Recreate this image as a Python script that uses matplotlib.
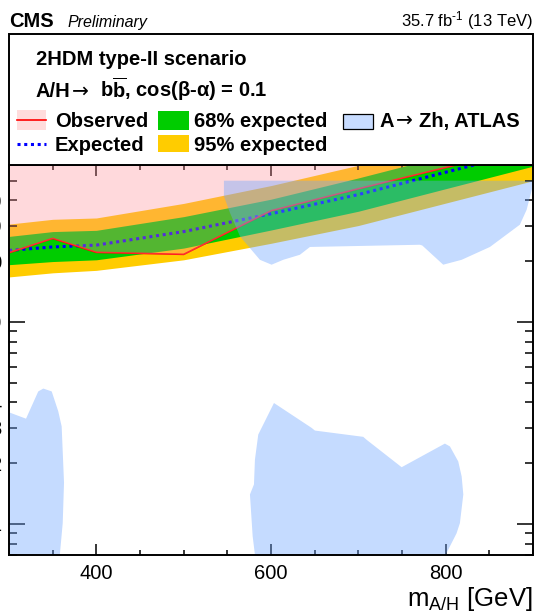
import matplotlib
matplotlib.use("Agg")
import matplotlib.pyplot as plt
from matplotlib.patches import Rectangle
from matplotlib.lines import Line2D
from matplotlib.ticker import FixedLocator, FixedFormatter

plt.rcParams['font.family'] = ['Liberation Sans', 'DejaVu Sans']
plt.rcParams['mathtext.fontset'] = 'custom'
plt.rcParams['mathtext.rm'] = 'Liberation Sans'
plt.rcParams['mathtext.it'] = 'Liberation Sans:italic'
plt.rcParams['mathtext.bf'] = 'Liberation Sans:bold'

# ---------------- data ----------------
mass = [300, 350, 400, 500, 600, 700, 900]
observed = [22.0, 25.9, 22.1, 21.6, 35.5, 45.6, 74.0]
expected = [22.6, 23.5, 24.0, 28.0, 34.3, 42.7, 71.0]
exp_m1 = [19.2, 19.9, 20.3, 23.2, 28.5, 35.3, 59.0]
exp_p1 = [26.5, 28.0, 28.4, 33.2, 40.5, 51.6, 86.0]
exp_m2 = [16.7, 17.5, 18.0, 20.3, 24.5, 30.0, 50.0]
exp_p2 = [30.5, 32.2, 32.7, 38.6, 47.3, 59.6, 100.0]

# ATLAS A->Zh excluded regions (contours)
atlas1_m = [546.1, 900.0, 900.2, 892.7, 885.0, 850.7, 818.3, 797.2, 773.2, 770.5,
            644.6, 633.1, 614.0, 600.7, 587.3, 575.9, 564.5, 553.0, 546.1]
atlas1_tb = [50.0, 50.0, 47.9, 35.9, 30.3, 23.5, 20.3, 19.2, 23.9, 24.1,
             23.5, 21.5, 20.3, 19.2, 20.3, 23.2, 26.5, 34.7, 41.9]
atlas2_m = [300.0, 319.5, 333.5, 339.3, 348.9, 356.4, 360.3, 363.0, 361.5, 358.4, 357.8, 300.0]
atlas2_tb = [3.57, 3.32, 4.53, 4.68, 4.53, 3.61, 3.04, 1.60, 1.01, 0.72, 0.60, 0.60]
atlas3_m = [583.6, 579.0, 575.9, 580.5, 581.6, 585.4, 603.4, 646.5, 650.3, 705.6, 709.5,
            749.6, 799.1, 804.9, 814.4, 818.3, 820.2, 816.3, 812.5, 801.1, 799.0]
atlas3_tb = [0.60, 0.87, 1.40, 1.57, 2.08, 2.77, 3.97, 2.99, 2.90, 2.70, 2.61,
             1.91, 2.50, 2.42, 2.04, 1.72, 1.40, 1.01, 0.90, 0.72, 0.60]

xticks_major = [400, 600, 800]
yticks_major = [1, 10]
ytick_major_labels = ["1", "10"]
yticks_minor = [0.7, 0.8, 0.9, 2, 3, 4, 5, 6, 7, 8, 9, 20, 30, 40, 50, 60]
ytick_minor_labels = ["", "", "", "2", "3", "4", "", "", "", "", "", "20", "30", "40", "", ""]

# ---------------- figure ----------------
W, H = 536, 614
fig = plt.figure(figsize=(W / 100, H / 100), dpi=100)

def fx(px):
    return px / W

def fy(py):
    return 1 - py / H

ax_left, ax_right, ax_top, ax_bot = 9, 533, 164.7, 555.3
ax = fig.add_axes([fx(ax_left), fy(ax_bot), (ax_right - ax_left) / W, (ax_bot - ax_top) / H])
ax.set_yscale('log')
ax.set_xlim(300, 900)
ax.set_ylim(0.7, 60)

yellow = '#FFCC00'
green = '#00CC00'
pink = (1.0, 140 / 255, 150 / 255, 0.33)
atlas_col = (110 / 255, 165 / 255, 1.0, 0.40)

ax.fill_between(mass, exp_m2, exp_p2, color=yellow, lw=0, zorder=1)
ax.fill_between(mass, exp_m1, exp_p1, color=green, lw=0, zorder=2)
ax.plot(mass, expected, color='#0000FF', lw=2.2, ls=(0, (1, 1.2)),
        dash_capstyle='butt', zorder=3)
ax.plot(mass, observed, color='#FF0000', lw=1.2, zorder=4)
ax.fill_between(mass, observed, [1000] * len(mass), color=pink, lw=0, zorder=5)
for mm, tt in [(atlas1_m, atlas1_tb), (atlas2_m, atlas2_tb), (atlas3_m, atlas3_tb)]:
    ax.fill(mm, tt, color=atlas_col, lw=0, zorder=6)

# ticks
ax.xaxis.set_major_locator(FixedLocator(xticks_major))
ax.xaxis.set_minor_locator(FixedLocator([v for v in range(300, 901, 50) if v not in xticks_major]))
ax.yaxis.set_major_locator(FixedLocator(yticks_major))
ax.yaxis.set_major_formatter(FixedFormatter(ytick_major_labels))
ax.yaxis.set_minor_locator(FixedLocator(yticks_minor))
ax.yaxis.set_minor_formatter(FixedFormatter(ytick_minor_labels))

ax.tick_params(axis='both', which='both', direction='in', top=True, right=True, width=1.1,
               labelsize=14.5, colors='black')
ax.tick_params(axis='x', which='major', length=8, pad=6.5)
ax.tick_params(axis='x', which='minor', length=3.6)
ax.tick_params(axis='y', which='major', length=11.5, pad=5.2)
ax.tick_params(axis='y', which='minor', length=5.8, pad=5.2)
for s in ax.spines.values():
    s.set_linewidth(1.4)
    s.set_zorder(10)

# legend box
fig.add_artist(Rectangle((fx(ax_left), fy(ax_top)), (ax_right - ax_left) / W, (ax_top - 33.6) / H,
                         transform=fig.transFigure, facecolor='white', edgecolor='black', lw=1.4))

# header
fig.text(fx(9), fy(26.7), 'CMS', weight='bold', size=14.5, va='baseline', ha='left')
fig.text(fx(67.5), fy(26.7), 'Preliminary', style='italic', size=11.5, va='baseline', ha='left')
fig.text(fx(533), fy(26.7), r'35.7 fb$^{\text{-1}}$ (13 TeV)', size=12, va='baseline', ha='right')

# legend texts
fig.text(fx(36), fy(65), '2HDM type-II scenario', weight='bold', size=14.5, va='baseline')
fig.text(fx(36), fy(97), 'A/H', weight='bold', size=14.5, va='baseline')
fig.text(fx(72), fy(96.5), '→', family=['DejaVu Sans'], size=14.5, va='baseline')
fig.text(fx(100), fy(97), r'b$\overline{\mathbf{b}}$, cos(β-α) = 0.1', weight='bold', size=14.5,
         va='baseline')

def box(x0, y0, x1, y1, fc, ec='none', lw=0):
    fig.add_artist(Rectangle((fx(x0), fy(y1)), (x1 - x0) / W, (y1 - y0) / H,
                             transform=fig.transFigure, facecolor=fc, edgecolor=ec, lw=lw))

box(17.1, 109.6, 46.2, 129.5, '#FFDCDC')
fig.add_artist(Line2D([fx(17.1), fx(46.2)], [fy(119.6), fy(119.6)], color='#FF0000', lw=1.2,
                      transform=fig.transFigure))
fig.add_artist(Line2D([fx(17.1), fx(46.2)], [fy(143.8), fy(143.8)], color='#0000FF', lw=2.2,
                      ls=(0, (1, 1.2)), dash_capstyle='butt', transform=fig.transFigure))
box(158.2, 110.6, 189.0, 129.5, green)
box(158.2, 135.3, 189.0, 152.4, yellow)
box(342.5, 113.7, 372.6, 128.8, '#C8DCFF', ec='black', lw=0.9)

fig.text(fx(54.8), fy(126.7), 'Observed', weight='bold', size=14.5, va='baseline')
fig.text(fx(54.8), fy(150.7), 'Expected', weight='bold', size=14.5, va='baseline')
fig.text(fx(194.5), fy(126.7), '68% expected', weight='bold', size=14.5, va='baseline')
fig.text(fx(194.5), fy(150.7), '95% expected', weight='bold', size=14.5, va='baseline')
fig.text(fx(379.5), fy(126.7), 'A', weight='bold', size=14.5, va='baseline')
fig.text(fx(395.5), fy(126.2), '→', family=['DejaVu Sans'], size=14.5, va='baseline')
fig.text(fx(419), fy(126.7), 'Zh, ATLAS', weight='bold', size=14.5, va='baseline')

# x label
fig.text(fx(533), fy(606), r'm$_{\mathrm{A/H}}$ [GeV]', size=18.5, ha='right', va='baseline')

fig.savefig('out.png', dpi=100)
